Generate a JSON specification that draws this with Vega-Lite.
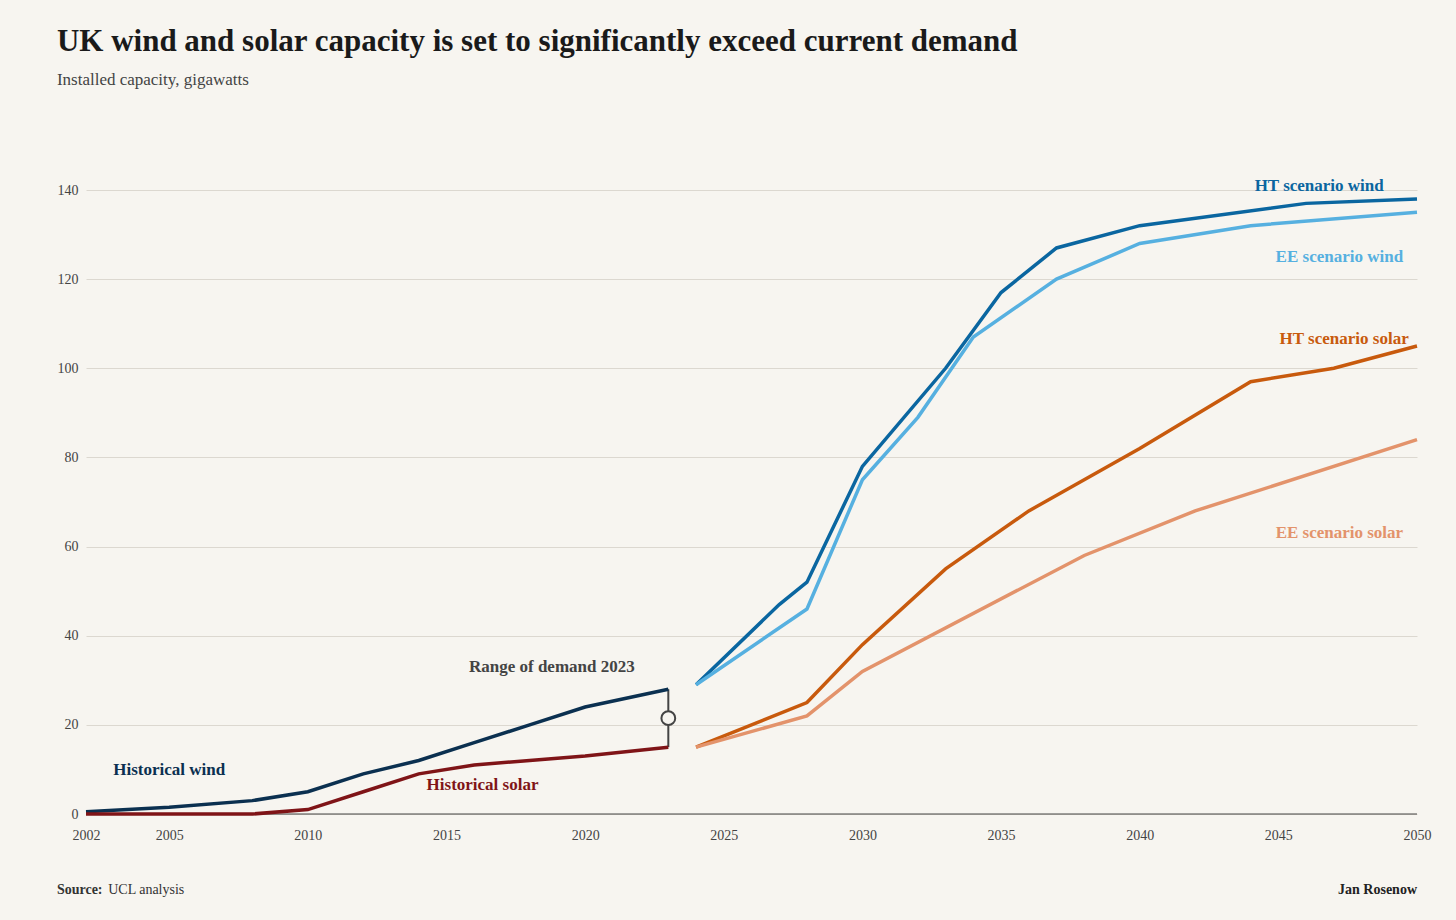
{
  "$schema": "https://vega.github.io/schema/vega-lite/v6.json",
  "autosize": "none",
  "width": 1331,
  "height": 624,
  "padding": {"left": 86, "top": 190, "right": 39, "bottom": 106},
  "background": "#f7f5f0",
  "config": {"view": {"stroke": null}, "font": "Liberation Serif"},
  "title": {
    "text": "UK wind and solar capacity is set to significantly exceed current demand",
    "subtitle": "Installed capacity, gigawatts",
    "anchor": "start",
    "frame": "bounds",
    "dx": 0,
    "offset": 88,
    "font": "Liberation Serif",
    "fontSize": 31,
    "fontWeight": "bold",
    "color": "#1a1a1a",
    "subtitleFont": "Liberation Serif",
    "subtitleFontSize": 17,
    "subtitleColor": "#444",
    "subtitlePadding": 14
  },
  "datasets": {
    "lines": [
      {"s": "Historical wind", "year": 2002, "gw": 0.5},
      {"s": "Historical wind", "year": 2005, "gw": 1.5},
      {"s": "Historical wind", "year": 2008, "gw": 3},
      {"s": "Historical wind", "year": 2010, "gw": 5},
      {"s": "Historical wind", "year": 2012, "gw": 9},
      {"s": "Historical wind", "year": 2014, "gw": 12},
      {"s": "Historical wind", "year": 2016, "gw": 16},
      {"s": "Historical wind", "year": 2018, "gw": 20},
      {"s": "Historical wind", "year": 2020, "gw": 24},
      {"s": "Historical wind", "year": 2023, "gw": 28},
      {"s": "Historical solar", "year": 2002, "gw": 0},
      {"s": "Historical solar", "year": 2008, "gw": 0},
      {"s": "Historical solar", "year": 2010, "gw": 1},
      {"s": "Historical solar", "year": 2012, "gw": 5},
      {"s": "Historical solar", "year": 2014, "gw": 9},
      {"s": "Historical solar", "year": 2016, "gw": 11},
      {"s": "Historical solar", "year": 2018, "gw": 12},
      {"s": "Historical solar", "year": 2020, "gw": 13},
      {"s": "Historical solar", "year": 2023, "gw": 15},
      {"s": "HT wind", "year": 2024, "gw": 29},
      {"s": "HT wind", "year": 2027, "gw": 47},
      {"s": "HT wind", "year": 2028, "gw": 52},
      {"s": "HT wind", "year": 2030, "gw": 78},
      {"s": "HT wind", "year": 2033, "gw": 100},
      {"s": "HT wind", "year": 2035, "gw": 117},
      {"s": "HT wind", "year": 2037, "gw": 127},
      {"s": "HT wind", "year": 2040, "gw": 132},
      {"s": "HT wind", "year": 2046, "gw": 137},
      {"s": "HT wind", "year": 2050, "gw": 138},
      {"s": "EE wind", "year": 2024, "gw": 29},
      {"s": "EE wind", "year": 2028, "gw": 46},
      {"s": "EE wind", "year": 2030, "gw": 75},
      {"s": "EE wind", "year": 2032, "gw": 89},
      {"s": "EE wind", "year": 2034, "gw": 107},
      {"s": "EE wind", "year": 2037, "gw": 120},
      {"s": "EE wind", "year": 2040, "gw": 128},
      {"s": "EE wind", "year": 2044, "gw": 132},
      {"s": "EE wind", "year": 2050, "gw": 135},
      {"s": "HT solar", "year": 2024, "gw": 15},
      {"s": "HT solar", "year": 2028, "gw": 25},
      {"s": "HT solar", "year": 2030, "gw": 38},
      {"s": "HT solar", "year": 2033, "gw": 55},
      {"s": "HT solar", "year": 2036, "gw": 68},
      {"s": "HT solar", "year": 2040, "gw": 82},
      {"s": "HT solar", "year": 2044, "gw": 97},
      {"s": "HT solar", "year": 2047, "gw": 100},
      {"s": "HT solar", "year": 2050, "gw": 105},
      {"s": "EE solar", "year": 2024, "gw": 15},
      {"s": "EE solar", "year": 2028, "gw": 22},
      {"s": "EE solar", "year": 2030, "gw": 32},
      {"s": "EE solar", "year": 2038, "gw": 58},
      {"s": "EE solar", "year": 2042, "gw": 68},
      {"s": "EE solar", "year": 2050, "gw": 84}
    ]
  },
  "encoding": {
    "x": {
      "field": "year", "type": "quantitative",
      "scale": {"domain": [2002, 2050], "nice": false, "zero": false},
      "axis": {
        "values": [2002, 2005, 2010, 2015, 2020, 2025, 2030, 2035, 2040, 2045, 2050],
        "format": "d", "title": null, "grid": false, "domain": false, "ticks": false, "labelFlush": false,
        "labelFontSize": 14, "labelColor": "#444", "labelPadding": 14, "labelFont": "Liberation Serif"
      }
    },
    "y": {
      "field": "gw", "type": "quantitative",
      "scale": {"domain": [0, 140]},
      "axis": {
        "values": [0, 20, 40, 60, 80, 100, 120, 140],
        "title": null, "domain": false, "ticks": false, "gridColor": "#dcd8d0",
        "labelFontSize": 14, "labelColor": "#444", "labelPadding": 8, "labelFont": "Liberation Serif"
      }
    },
    "color": {
      "field": "s", "type": "nominal", "legend": null,
      "scale": {
        "domain": ["Historical wind", "Historical solar", "HT wind", "EE wind", "HT solar", "EE solar", "Demand"],
        "range": ["#0b3050", "#7f1417", "#0a66a0", "#56b0e0", "#c85a0d", "#e3936b", "#444444"]
      }
    }
  },
  "layer": [
    {
      "data": {"values": [{"y": 0}]},
      "mark": {"type": "rule", "color": "#444", "strokeWidth": 1},
      "encoding": {"y": {"field": "y", "type": "quantitative"}, "x": null, "color": null}
    },
    {
      "data": {"values": [{"year": 2023, "gw": 15, "gw2": 28}]},
      "mark": {"type": "rule", "color": "#444", "strokeWidth": 2},
      "encoding": {"y2": {"field": "gw2"}, "color": null}
    },
    {
      "data": {"name": "lines"},
      "mark": {"type": "line", "strokeWidth": 3.5},
      "encoding": {"detail": {"field": "s"}}
    },
    {
      "data": {"values": [{"year": 2023, "gw": 21.5}]},
      "mark": {"type": "point", "filled": true, "fill": "#f7f5f0", "stroke": "#444", "strokeWidth": 2, "size": 190, "opacity": 1},
      "encoding": {"color": null}
    },
    {
      "data": {"values": [
        {"s": "Historical wind", "t": "Historical wind", "year": 2005, "gw": 9.8},
        {"s": "Historical solar", "t": "Historical solar", "year": 2016.3, "gw": 6.5},
        {"s": "Demand", "t": "Range of demand 2023", "year": 2018.8, "gw": 33}
      ]},
      "mark": {"type": "text", "align": "center", "fontSize": 17, "fontWeight": "bold", "font": "Liberation Serif"},
      "encoding": {"text": {"field": "t"}}
    },
    {
      "data": {"values": [
        {"s": "HT wind", "t": "HT scenario wind", "year": 2048.8, "gw": 141},
        {"s": "EE wind", "t": "EE scenario wind", "year": 2049.5, "gw": 125},
        {"s": "HT solar", "t": "HT scenario solar", "year": 2049.7, "gw": 106.5},
        {"s": "EE solar", "t": "EE scenario solar", "year": 2049.5, "gw": 63}
      ]},
      "mark": {"type": "text", "align": "right", "fontSize": 17, "fontWeight": "bold", "font": "Liberation Serif"},
      "encoding": {"text": {"field": "t"}}
    },
    {
      "data": {"values": [{"year": 2000.95, "gw": -17, "t": "Source:"}]},
      "mark": {"type": "text", "align": "left", "fontSize": 14, "fontWeight": "bold", "color": "#333", "font": "Liberation Serif"},
      "encoding": {"text": {"field": "t"}, "color": null}
    },
    {
      "data": {"values": [{"year": 2002.8, "gw": -17, "t": "UCL analysis"}]},
      "mark": {"type": "text", "align": "left", "fontSize": 14, "color": "#333", "font": "Liberation Serif"},
      "encoding": {"text": {"field": "t"}, "color": null}
    },
    {
      "data": {"values": [{"year": 2050, "gw": -17, "t": "Jan Rosenow"}]},
      "mark": {"type": "text", "align": "right", "fontSize": 14, "fontWeight": "bold", "color": "#222", "font": "Liberation Serif"},
      "encoding": {"text": {"field": "t"}, "color": null}
    }
  ]
}
